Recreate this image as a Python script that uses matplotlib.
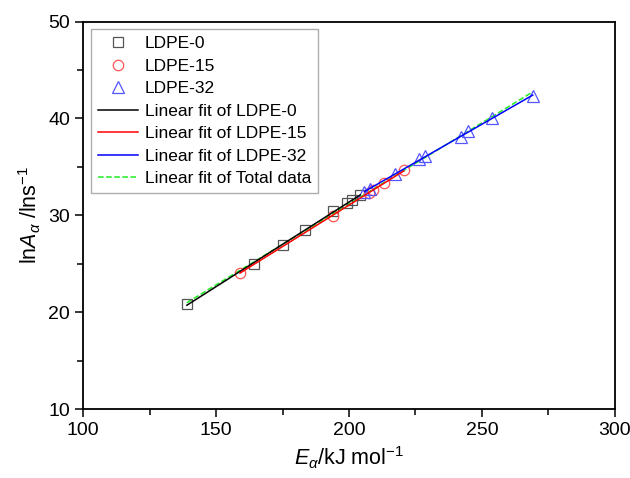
import numpy as np
import matplotlib
matplotlib.use("Agg")
import matplotlib.pyplot as plt
from matplotlib.ticker import MultipleLocator

plt.rcParams['font.family'] = ['Liberation Sans', 'DejaVu Sans']
plt.rcParams['mathtext.fontset'] = 'custom'
plt.rcParams['mathtext.it'] = 'Liberation Sans:italic'
plt.rcParams['mathtext.rm'] = 'Liberation Sans'

# Data
e_ldpe0 = [139.0, 164.3, 175.1, 183.5, 194.1, 199.4, 201.0, 204.2]
lna_ldpe0 = [20.83, 25.0, 26.96, 28.44, 30.45, 31.3, 31.6, 32.05]

e_ldpe15 = [159.0, 193.8, 207.6, 209.0, 213.2, 220.6]
lna_ldpe15 = [24.1, 29.9, 32.3, 32.6, 33.3, 34.7]

e_ldpe32 = [205.8, 208.0, 217.3, 226.5, 228.7, 242.0, 244.9, 253.6, 269.1]
lna_ldpe32 = [32.4, 32.7, 34.3, 35.8, 36.1, 38.1, 38.7, 40.0, 42.3]

fig = plt.figure(figsize=(6.3, 4.78), dpi=100)
ax = fig.add_axes([0.132, 0.144, 0.844, 0.811])

ax.plot(e_ldpe0, lna_ldpe0, 's', mfc='none', mec='#555555', ms=6.5, mew=0.9, label='LDPE-0')
ax.plot(e_ldpe15, lna_ldpe15, 'o', mfc='none', mec='#ff5555', ms=7.5, mew=0.9, label='LDPE-15')
ax.plot(e_ldpe32, lna_ldpe32, '^', mfc='none', mec='#5555ff', ms=8.5, mew=0.9, label='LDPE-32')

def fit_line(x, y):
    k, b = np.polyfit(x, y, 1)
    xs = np.array([min(x), max(x)])
    return xs, k * xs + b

x0, y0 = fit_line(e_ldpe0, lna_ldpe0)
ax.plot(x0, y0, '-', color='black', lw=1.1, label='Linear fit of LDPE-0')
x1, y1 = fit_line(e_ldpe15, lna_ldpe15)
ax.plot(x1, y1, '-', color='red', lw=1.1, label='Linear fit of LDPE-15')
x2, y2 = fit_line(e_ldpe32, lna_ldpe32)
ax.plot(x2, y2, '-', color='blue', lw=1.1, label='Linear fit of LDPE-32')
e_all = e_ldpe0 + e_ldpe15 + e_ldpe32
lna_all = lna_ldpe0 + lna_ldpe15 + lna_ldpe32
xt, yt = fit_line(e_all, lna_all)
ax.plot(xt, yt, '--', color='#22ee22', lw=1.1, label='Linear fit of Total data', zorder=1)

ax.set_xlim(100, 300)
ax.set_ylim(10, 50)
ax.xaxis.set_major_locator(MultipleLocator(50))
ax.xaxis.set_minor_locator(MultipleLocator(25))
ax.yaxis.set_major_locator(MultipleLocator(10))
ax.yaxis.set_minor_locator(MultipleLocator(5))
ax.tick_params(which='major', direction='out', length=6, width=1.1, labelsize=14,
               top=False, right=False)
ax.tick_params(which='minor', direction='out', length=4, width=1.1, top=False, right=False)
for s in ax.spines.values():
    s.set_linewidth(1.3)

ax.set_xlabel(r'$E_\alpha$/kJ mol$^{-1}$', fontsize=15.5, labelpad=4)
ax.set_ylabel(r'ln$A_\alpha$ /lns$^{-1}$', fontsize=15.5, labelpad=4)

leg = ax.legend(loc='upper left', fontsize=12.5, frameon=True, fancybox=False,
                edgecolor='#999999', labelspacing=0.42, handlelength=2.3,
                handletextpad=0.4, borderpad=0.4, borderaxespad=0.45)
leg.get_frame().set_linewidth(1.0)

fig.savefig('out.png', dpi=100)
